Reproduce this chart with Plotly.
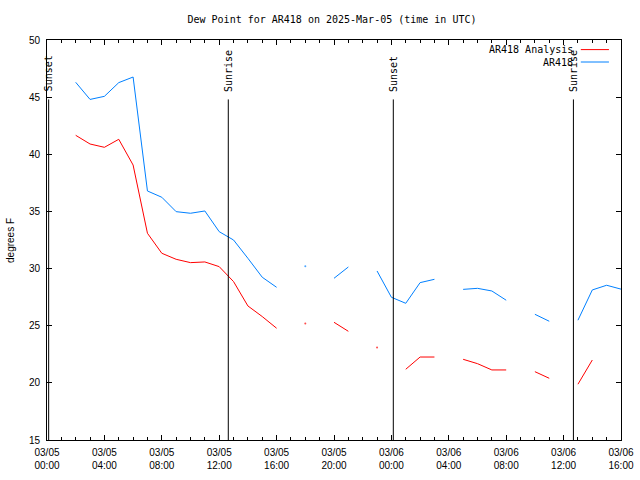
import plotly.graph_objects as go
import pandas as pd

# ---- data (hourly, hours since 2025-03-05 00:00 UTC) ----
hours = list(range(2, 41))
ar418 = [46.3, 44.8, 45.07, 46.27, 46.76, 36.79, 36.24, 34.98, 34.84, 35.04,
         33.23, 32.5, 30.9, 29.24, 28.36, None, 30.2, None, 29.15, 30.14,
         None, 29.79, 27.49, 26.96, 28.77, 29.06, None, 28.18, 28.27, 28.04,
         27.23, None, 26.0, 25.39, None, 25.48, 28.13, 28.54, 28.2]
analysis = [41.66, 40.9, 40.61, 41.31, 39.06, 33.09, 31.34, 30.81, 30.52, 30.58,
            30.17, 28.86, 26.73, 25.8, 24.78, None, 25.2, None, 25.3, 24.51,
            None, 23.1, None, 21.19, 22.26, 22.26, None, 22.06, 21.68, 21.13,
            21.13, None, 20.98, 20.4, None, 19.88, 22.0, None, None]

sun_events = ["2025-03-05 00:07", "2025-03-05 12:38", "2025-03-06 00:08", "2025-03-06 12:41"]
sun_labels = ["Sunset", "Sunrise", "Sunset", "Sunrise"]

start = pd.Timestamp("2025-03-05 00:00")
times = [start + pd.Timedelta(hours=h) for h in hours]

MONO = "DejaVu Sans Mono"
SANS = "Liberation Sans"


def iso_sizes(vals):
    out = []
    for i, v in enumerate(vals):
        prev = vals[i - 1] if i > 0 else None
        nxt = vals[i + 1] if i < len(vals) - 1 else None
        out.append(2 if (v is not None and prev is None and nxt is None) else 0)
    return out


fig = go.Figure()
fig.add_trace(go.Scatter(x=times, y=analysis, mode="lines+markers", name="AR418 Analysis",
                         line=dict(color="#ff0000", width=1),
                         marker=dict(size=iso_sizes(analysis), color="#ff0000", line=dict(width=0)),
                         connectgaps=False, showlegend=False))
fig.add_trace(go.Scatter(x=times, y=ar418, mode="lines+markers", name="AR418",
                         line=dict(color="#0080ff", width=1),
                         marker=dict(size=iso_sizes(ar418), color="#0080ff", line=dict(width=0)),
                         connectgaps=False, showlegend=False))

shapes = []
annotations = []
for t, lab in zip(sun_events, sun_labels):
    shapes.append(dict(type="line", xref="x", yref="y", x0=t, x1=t, y0=15, y1=44.8,
                       line=dict(color="black", width=1)))
    annotations.append(dict(x=t, y=45.3, xref="x", yref="y", text=lab, textangle=-90,
                            showarrow=False, xanchor="center", yanchor="bottom",
                            font=dict(family=MONO, size=10, color="black")))

# manual legend (text left of line sample, gnuplot style)
leg = [("AR418 Analysis", "#ff0000", 0.976), ("AR418", "#0080ff", 0.945)]
for name, col, yy in leg:
    annotations.append(dict(x=0.92, y=yy, xref="paper", yref="paper", text=name,
                            showarrow=False, xanchor="right", yanchor="middle",
                            font=dict(family=MONO, size=10, color="black")))
    shapes.append(dict(type="line", xref="paper", yref="paper", x0=0.930, x1=0.979,
                       y0=yy, y1=yy, line=dict(color=col, width=1)))

annotations.append(dict(x=-0.0645, y=0.5, xref="paper", yref="paper", text="degrees F",
                        textangle=-90, showarrow=False, xanchor="center", yanchor="middle",
                        font=dict(family=SANS, size=10, color="black")))

fig.update_layout(
    width=640, height=480,
    margin=dict(l=47, r=19, t=40, b=40),
    paper_bgcolor="white", plot_bgcolor="white",
    title=dict(text="Dew Point for AR418 on 2025-Mar-05 (time in UTC)", x=332 / 640, xanchor="center",
               xref="container", y=1 - 19 / 480, yanchor="middle", yref="container",
               font=dict(family=MONO, size=10, color="black")),
    shapes=shapes, annotations=annotations,
    showlegend=False,
)
fig.update_xaxes(range=[start, start + pd.Timedelta(hours=40)], type="date", automargin=False,
                 dtick=4 * 3600000, tick0=start, tickformat="%m/%d<br>%H:%M",
                 ticks="inside", ticklen=5, tickcolor="black", mirror="ticks",
                 ticklabelstandoff=3,
                 showline=True, linecolor="black", linewidth=1, showgrid=False, zeroline=False,
                 minor=dict(dtick=3600000, ticks="inside", ticklen=3, tickcolor="black", showgrid=False),
                 tickfont=dict(family=SANS, size=10, color="black"))
fig.update_yaxes(range=[15, 50], dtick=5, ticks="inside", ticklen=5, tickcolor="black",
                 automargin=False, ticklabelstandoff=4,
                 mirror="ticks", showline=True, linecolor="black", linewidth=1,
                 showgrid=False, zeroline=False,
                 tickfont=dict(family=SANS, size=10, color="black"))

fig.write_html("out.html")
